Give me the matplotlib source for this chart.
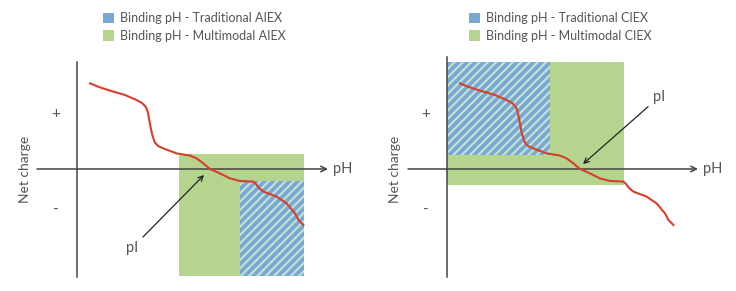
import matplotlib
matplotlib.use("Agg")
from matplotlib import pyplot as plt
from matplotlib.patches import Rectangle, Patch

plt.rcParams['font.family'] = ['Lato', 'DejaVu Sans']
plt.rcParams['hatch.linewidth'] = 1.6

# titration curve, pH (arbitrary units) vs net charge
ph = [0.65, 1.15, 1.65, 2.4, 2.98, 3.25, 3.45, 3.55, 3.65, 3.75, 3.88, 4.05, 4.32, 4.98, 5.65, 5.98,
      6.32, 6.65, 7.15, 7.65, 8.15, 8.82, 8.95, 9.1, 9.32, 9.98, 10.48, 10.9, 11.07, 11.32]
charge = [4.28, 4.08, 3.92, 3.7, 3.45, 3.3, 3.1, 2.8, 2.25, 1.75, 1.35, 1.15, 1.03, 0.78, 0.67, 0.53,
          0.28, 0.0, -0.22, -0.47, -0.6, -0.63, -0.75, -0.95, -1.13, -1.38, -1.72, -2.22, -2.55, -2.8]

# binding windows: (x0, x1, y0, y1)
aiex_multimodal = (5.1, 11.35, -5.35, 0.75)
aiex_traditional = (8.15, 11.35, -5.35, -0.6)
ciex_multimodal = (0.0, 8.85, -0.8, 5.35)
ciex_traditional = (0.0, 5.15, 0.7, 5.35)

panels = [
    dict(kind='AIEX', left=0, multi=aiex_multimodal, trad=aiex_traditional,
         yaxis=(-5.4, 5.35), xaxis=(-2.0, 12.55), pi_text=(2.45, -3.95), pi_xy=(6.35, -0.3)),
    dict(kind='CIEX', left=368, multi=ciex_multimodal, trad=ciex_traditional,
         yaxis=(-5.4, 5.6), xaxis=(-1.95, 12.55), pi_text=(10.3, 3.6), pi_xy=(6.8, 0.25)),
]
origins = [(77, 169), (447, 169)]

green = '#b5d48e'
blue = '#78a8d4'
hatch_col = '#c4e0d4'
axis_col = '#444444'
text_col = '#555555'

W, H = 736, 291
fig = plt.figure(figsize=(W / 100, H / 100), dpi=100)
scale = 20.0  # pixels per data unit

for p, (ox, oy) in zip(panels, origins):
    ax = fig.add_axes([p['left'] / W, 0, 368 / W, 1])
    ax.set_xlim((p['left'] - ox) / scale, (p['left'] + 368 - ox) / scale)
    ax.set_ylim((oy - H) / scale, oy / scale)
    ax.axis('off')

    x0, x1, y0, y1 = p['multi']
    ax.add_patch(Rectangle((x0, y0), x1 - x0, y1 - y0, facecolor=green, edgecolor='none', zorder=1))
    x0, x1, y0, y1 = p['trad']
    ax.add_patch(Rectangle((x0, y0), x1 - x0, y1 - y0, facecolor=blue, edgecolor=hatch_col,
                           linewidth=0, hatch='////', zorder=2))

    # axes
    ax.plot([0, 0], p['yaxis'], color=axis_col, lw=1.1, zorder=3)
    ax.annotate('', xy=(p['xaxis'][1], 0), xytext=(p['xaxis'][0], 0),
                arrowprops=dict(arrowstyle='->', color=axis_col, lw=1.1,
                                shrinkA=0, shrinkB=0, mutation_scale=10), zorder=3)
    ax.text(p['xaxis'][1] + 0.25, 0, 'pH', fontsize=10.5, color=text_col, va='center', ha='left')
    ax.text(-1.05, 2.75, '+', fontsize=11, color=text_col, va='center', ha='center')
    ax.text(-1.05, -2.05, '-', fontsize=11, color=text_col, va='center', ha='center')
    ax.text(-2.6, 0, 'Net charge', fontsize=10, color=text_col, rotation=90, va='center', ha='center')

    ax.plot(ph, charge, color='#d6402a', lw=1.5, zorder=4)

    ax.annotate('pI', xy=p['pi_xy'], xytext=p['pi_text'], fontsize=10.5, color=text_col,
                ha='left', va='center',
                arrowprops=dict(arrowstyle='->', color='#222222', lw=0.9,
                                shrinkA=2, shrinkB=0, mutation_scale=9), zorder=5)

    handles = [Patch(facecolor=blue, label='Binding pH - Traditional ' + p['kind']),
               Patch(facecolor=green, label='Binding pH - Multimodal ' + p['kind'])]
    ax.legend(handles=handles, loc='upper left', bbox_to_anchor=((98 + (p['left'] and -2)) / 368, 0.975),
              frameon=False, fontsize=9, handlelength=0.9, handleheight=0.9,
              handletextpad=0.5, labelspacing=0.45, labelcolor=text_col, borderaxespad=0)

fig.savefig('out.png', dpi=100)
